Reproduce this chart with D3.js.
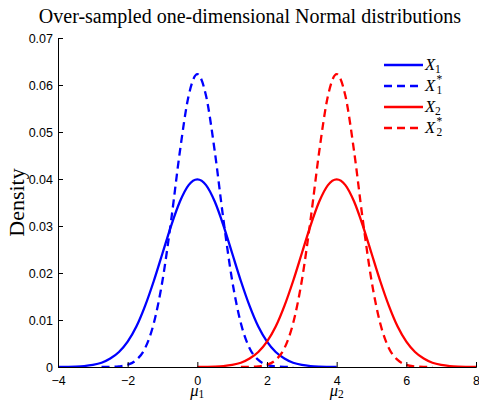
<!DOCTYPE html>
<html><head><meta charset="utf-8">
<script src="https://cdn.jsdelivr.net/npm/d3@7"></script>
<style>body{margin:0;background:#fff}svg{display:block}</style>
</head><body>
<script>
// ---- data ----
const xTicks = [-4, -2, 0, 2, 4, 6, 8];
const yTicks = [0, 0.01, 0.02, 0.03, 0.04, 0.05, 0.06, 0.07];
const yTickLabels = ["0", "0.01", "0.02", "0.03", "0.04", "0.05", "0.06", "0.07"];

const x1 = [-4,-3.75,-3.5,-3.25,-3,-2.75,-2.5,-2.25,-2,-1.75,-1.5,-1.25,-1,-0.75,-0.5,-0.25,0,0.25,0.5,0.75,1,1.25,1.5,1.75,2,2.25,2.5,2.75,3,3.25,3.5,3.75,4];
const y1 = [0.00001,0.00004,0.00009,0.0002,0.00044,0.0009,0.0018,0.0032,0.0054,0.0086,0.0130,0.0183,0.0242,0.0301,0.0352,0.0387,0.0399,0.0387,0.0352,0.0301,0.0242,0.0183,0.0130,0.0086,0.0054,0.0032,0.0018,0.0009,0.00044,0.0002,0.00009,0.00004,0.00001];

const x1s = [-2.75,-2.5,-2.25,-2,-1.75,-1.5,-1.25,-1,-0.75,-0.5,-0.25,0,0.25,0.5,0.75,1,1.25,1.5,1.75,2,2.25,2.5,2.75];
const y1s = [0.00001,0.00003,0.00013,0.00047,0.0015,0.0040,0.0093,0.0184,0.0313,0.0459,0.0577,0.0623,0.0577,0.0459,0.0313,0.0184,0.0093,0.0040,0.0015,0.00047,0.00013,0.00003,0.00001];

const x2 = [0,0.25,0.5,0.75,1,1.25,1.5,1.75,2,2.25,2.5,2.75,3,3.25,3.5,3.75,4,4.25,4.5,4.75,5,5.25,5.5,5.75,6,6.25,6.5,6.75,7,7.25,7.5,7.75,8];
const y2 = [0.00001,0.00004,0.00009,0.0002,0.00044,0.0009,0.0018,0.0032,0.0054,0.0086,0.0130,0.0183,0.0242,0.0301,0.0352,0.0387,0.0399,0.0387,0.0352,0.0301,0.0242,0.0183,0.0130,0.0086,0.0054,0.0032,0.0018,0.0009,0.00044,0.0002,0.00009,0.00004,0.00001];

const x2s = [1.25,1.5,1.75,2,2.25,2.5,2.75,3,3.25,3.5,3.75,4,4.25,4.5,4.75,5,5.25,5.5,5.75,6,6.25,6.5,6.75];
const y2s = [0.00001,0.00003,0.00013,0.00047,0.0015,0.0040,0.0093,0.0184,0.0313,0.0459,0.0577,0.0623,0.0577,0.0459,0.0313,0.0184,0.0093,0.0040,0.0015,0.00047,0.00013,0.00003,0.00001];

const seriesNames = [["X","1",""],["X","1","*"],["X","2",""],["X","2","*"]];
const seriesColors = ["#0000ff","#0000ff","#ff0000","#ff0000"];
const seriesDashed = [false,true,false,true];

// ---- chart ----
const W = 479, H = 401;
const m = {left:58, right:3, top:38, bottom:34};
const svg = d3.select("body").append("svg").attr("width",W).attr("height",H);
const x = d3.scaleLinear().domain([-4,8]).range([m.left, W-m.right]);
const y = d3.scaleLinear().domain([0,0.07]).range([H-m.bottom, m.top]);

const series = [[x1,y1],[x1s,y1s],[x2,y2],[x2s,y2s]];
const line = d3.line().x(d=>x(d[0])).y(d=>y(d[1])).curve(d3.curveMonotoneX);

series.forEach((s,i)=>{
  const pts = s[0].map((v,j)=>[v,s[1][j]]);
  svg.append("path").attr("d",line(pts)).attr("fill","none")
    .attr("stroke",seriesColors[i]).attr("stroke-width",2.3)
    .attr("stroke-dasharray",seriesDashed[i]?"8,5":null);
});

// axes (MATLAB style: ticks inward, box off)
const xAxis = d3.axisBottom(x).tickValues(xTicks).tickSize(-5).tickPadding(9).tickFormat(d=>d<0?"\u2212"+Math.abs(d):d);
const gx = svg.append("g").attr("transform",`translate(0,${y(0)})`).call(xAxis);
const yAxis = d3.axisLeft(y).tickValues(yTicks).tickSize(-5).tickPadding(5).tickFormat((d,i)=>yTickLabels[i]);
const gy = svg.append("g").attr("transform",`translate(${x(-4)},0)`).call(yAxis);
[gx,gy].forEach(g=>{
  g.select(".domain").attr("stroke","#000").attr("stroke-width",1);
  g.selectAll(".tick line").attr("stroke","#000");
  g.selectAll("text").attr("font-family","Liberation Sans, Arial, sans-serif").attr("font-size",12.5).attr("fill","#000");
});

// title
svg.append("text").attr("x",250).attr("y",23).attr("text-anchor","middle")
  .attr("font-family","Liberation Serif, Times New Roman, serif").attr("font-size",20)
  .text("Over-sampled one-dimensional Normal distributions");

// y label
svg.append("text").attr("transform",`translate(24,${(m.top+H-m.bottom)/2}) rotate(-90)`)
  .attr("text-anchor","middle").attr("font-family","Liberation Serif, Times New Roman, serif")
  .attr("font-size",22).text("Density");

// mu labels
[[0,"1"],[4,"2"]].forEach(d=>{
  const t = svg.append("text").attr("x",x(d[0])).attr("y",396).attr("text-anchor","middle")
    .attr("font-family","Liberation Serif, Times New Roman, serif").attr("font-size",16.5);
  t.append("tspan").attr("font-style","italic").text("\u03bc");
  t.append("tspan").attr("font-size",11.5).attr("dy",2).text(d[1]);
});

// legend
const legY = [65,86,107,128];
seriesNames.forEach((n,i)=>{
  svg.append("line").attr("x1",384).attr("x2",423).attr("y1",legY[i]).attr("y2",legY[i])
    .attr("stroke",seriesColors[i]).attr("stroke-width",2.3)
    .attr("stroke-dasharray",seriesDashed[i]?"8,5":null);
  const t = svg.append("text").attr("x",425).attr("y",legY[i]+5)
    .attr("font-family","Liberation Serif, Times New Roman, serif").attr("font-size",16.5);
  t.append("tspan").attr("font-style","italic").text(n[0]);
  if(n[2]){
    const px = 425 + 11.5;
    t.append("tspan").attr("x",px).attr("font-size",11.5).attr("dy",3).text(n[1]);
    t.append("tspan").attr("x",px).attr("font-size",11.5).attr("dy",-11).text(n[2]);
  } else {
    t.append("tspan").attr("font-size",11.5).attr("dy",3).text(n[1]);
  }
});
</script>
</body></html>
